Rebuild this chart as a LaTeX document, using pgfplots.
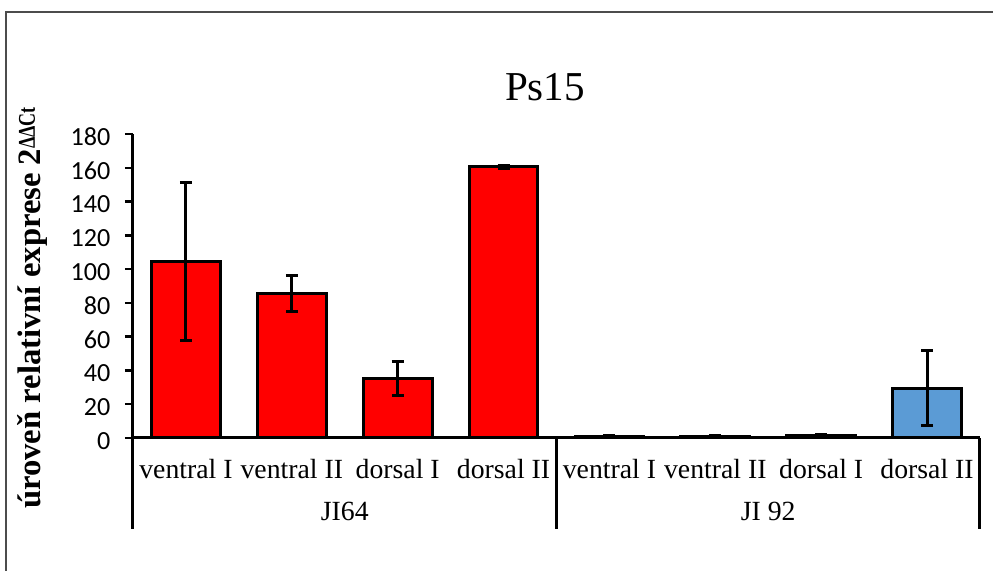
\documentclass[border=0pt]{standalone}
\usepackage{fontspec}
\setmainfont{Liberation Serif}
\newfontfamily\carlito{Carlito}
\usepackage{graphicx}
\usepackage{pgfplots}
\pgfplotsset{compat=1.18}
\newlength\px \setlength\px{0.75pt}
\definecolor{xred}{RGB}{255,0,0}
\definecolor{xblue}{RGB}{91,155,213}
\pgfplotstableread{
x y e
0 104.4 46.7
1 85.7 10.8
2 35.3 10.0
3 160.6 0.8
4 0.9 0.3
5 0.9 0.3
6 1.4 0.4
}\redbars
\pgfplotstableread{
x y e
7 29.4 22.2
}\bluebars
\begin{document}
\begin{tikzpicture}
\useasboundingbox (-133\px,-133\px) rectangle (860\px,438\px);
\draw[line width=2\px, gray!60!black] (-127\px,-133\px) -- (-127\px,426\px) -- (860\px,426\px);
\begin{axis}[
  at={(0,0)}, anchor=south west,
  scale only axis, width=847\px, height=304\px,
  xmin=-0.5, xmax=7.5, ymin=0, ymax=180,
  axis x line=bottom, axis y line=left,
  axis line style={-, line width=3\px, black},
  xtick={0,...,7},
  xticklabels={ventral I, ventral II, dorsal I, dorsal II, ventral I, ventral II, dorsal I, dorsal II},
  xtick style={draw=none},
  xticklabel style={font=\fontsize{20.8}{24}\selectfont, anchor=base, yshift=-32.5\px},
  ytick={0,20,...,180},
  ytick style={line width=2.5\px, black},
  tick align=outside, major tick length=8\px,
  yticklabel style={font=\carlito\fontsize{19.6}{22}\selectfont, yshift=-3\px, xshift=-10\px},
  /pgf/number format/assume math mode=true,
  clip=false,
]
\addplot[ybar, bar shift=0pt, bar width=0.65, fill=xred, draw=black, line width=3\px,
  error bars/.cd, y dir=both, y explicit,
  error bar style={line width=3\px, black},
  error mark options={rotate=90, mark size=6\px, line width=3\px, black}]
  table[x=x, y=y, y error=e] {\redbars};
\addplot[ybar, bar shift=0pt, bar width=0.65, fill=xblue, draw=black, line width=3\px,
  error bars/.cd, y dir=both, y explicit,
  error bar style={line width=3\px, black},
  error mark options={rotate=90, mark size=6\px, line width=3\px, black}]
  table[x=x, y=y, y error=e] {\bluebars};
\draw[line width=3\px] (axis cs:-0.5,0) -- ++(0pt,-91.5\px);
\draw[line width=3\px] (axis cs:3.5,0) -- ++(0pt,-91.5\px);
\draw[line width=3\px] (axis cs:7.5,0) -- ++(0pt,-91.5\px);
\node[anchor=base, font=\fontsize{20.8}{24}\selectfont, yshift=-82.5\px] at (axis cs:1.5,0) {JI64};
\node[anchor=base, font=\fontsize{20.8}{24}\selectfont, yshift=-82.5\px] at (axis cs:5.5,0) {JI 92};
\end{axis}
\node[anchor=base, font=\fontsize{30.8}{36}\selectfont] at (412\px,337.5\px) {Ps15};
\node[rotate=90, anchor=base, font=\bfseries\fontsize{24.5}{28}\selectfont] at (-92\px,130\px)
  {úroveň relativní exprese 2\raisebox{4.5pt}{\scalebox{0.75}[1]{\fontsize{18}{18}\selectfont ΔΔCt}}};
\end{tikzpicture}
\end{document}
